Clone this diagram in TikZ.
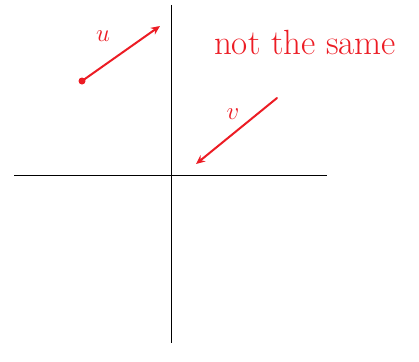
\documentclass[tikz,border=0pt]{standalone}
\usepackage{tikz}
\usepackage{xcolor}
\usetikzlibrary{arrows.meta}
\definecolor{penred}{RGB}{236,28,36}
\tikzset{
  axis/.style={line width=1pt},
  vec/.style={penred,line width=2pt,line cap=round,-{Stealth[length=9pt,width=8pt]}},
  hand/.style={penred,font=\fontsize{24}{24}\selectfont},
  note/.style={penred,font=\fontsize{35}{35}\selectfont}
}
\begin{document}
\begin{tikzpicture}[x=1pt,y=-1pt]
      \useasboundingbox (0,0) rectangle (419,361);
      \coordinate (L) at (14,175);
      \coordinate (R) at (327,175);
      \coordinate (T) at (171,5);
      \coordinate (B) at (171,343);
      \draw [axis] (L) -- (R);
      \draw [axis] (T) -- (B);
      \coordinate (u0) at (82,81);
      \coordinate (u1) at (160,26);
      \coordinate (v0) at (277,98);
      \coordinate (v1) at (196,164);
      \fill [penred] (u0) circle (3.5);
      \draw [vec] (u0) -- (u1);
      \draw [vec] (v0) -- (v1);
      \node [hand] (ulab) at (103,36) {$u$};
      \node [hand] (vlab) at (233,114) {$v$};
      \node [note] (txt) at (305,42) {not the same};
    \end{tikzpicture}
\end{document}
